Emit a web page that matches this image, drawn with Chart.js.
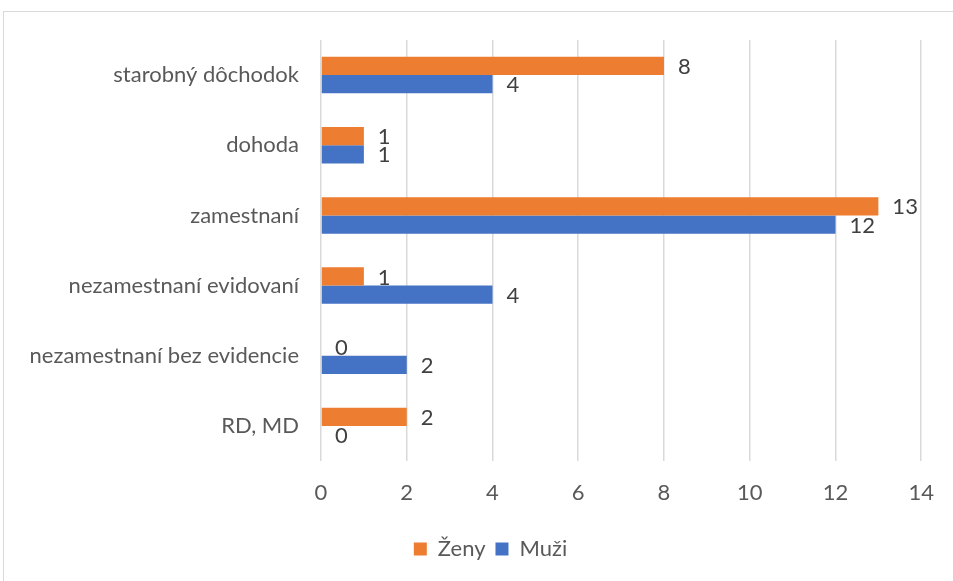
<!DOCTYPE html>
<html>
<head>
<meta charset="utf-8">
<script src="https://cdn.jsdelivr.net/npm/chart.js@4.4.1/dist/chart.umd.min.js"></script>
<style>
  html, body { margin: 0; padding: 0; background: #fff; }
  #wrap { width: 953px; height: 581px; position: relative; }
</style>
</head>
<body>
<div id="wrap"><canvas id="chart" width="953" height="581"></canvas></div>
<script>
const categories = ["starobný dôchodok", "dohoda", "zamestnaní", "nezamestnaní evidovaní", "nezamestnaní bez evidencie", "RD, MD"];
const zenyValues = [8, 1, 13, 1, 0, 2];
const muziValues = [4, 1, 12, 4, 2, 0];
const xTicks = [0, 2, 4, 6, 8, 10, 12, 14];

const FONT = "Lato, 'Liberation Sans', sans-serif";

// frame around the chart (only left and top edges are inside the picture)
const framePlugin = {
    id: "frame",
    beforeDraw(chart) {
        const ctx = chart.ctx;
        ctx.save();
        ctx.fillStyle = "#fff";
        ctx.fillRect(0, 0, chart.width, chart.height);
        ctx.strokeStyle = "#d9d9d9";
        ctx.lineWidth = 1;
        ctx.strokeRect(3.5, 11.5, 1000, 1000);
        ctx.restore();
    },
    // legend sits under the plot area, a bit right of the canvas centre
    afterLayout(chart) {
        chart.legend.left += 28;
        chart.legend.right += 28;
    }
};

// value labels at the end of each bar
const valueLabels = {
    id: "valueLabels",
    afterDatasetsDraw(chart) {
        const ctx = chart.ctx;
        ctx.save();
        ctx.font = "22px " + FONT;
        ctx.fillStyle = "#404040";
        ctx.textAlign = "left";
        ctx.textBaseline = "middle";
        chart.data.datasets.forEach((ds, i) => {
            chart.getDatasetMeta(i).data.forEach((bar, j) => {
                ctx.fillText(String(ds.data[j]), bar.x + 14, bar.y + 1);
            });
        });
        ctx.restore();
    }
};

new Chart(document.getElementById("chart"), {
    type: "bar",
    data: {
        labels: categories,
        datasets: [
            {
                label: "Ženy",
                data: zenyValues,
                backgroundColor: "#ED7D31",
                categoryPercentage: 0.52,
                barPercentage: 1.0
            },
            {
                label: "Muži",
                data: muziValues,
                backgroundColor: "#4472C4",
                categoryPercentage: 0.52,
                barPercentage: 1.0
            }
        ]
    },
    options: {
        indexAxis: "y",
        responsive: false,
        animation: false,
        layout: { padding: { top: 40, right: 28, bottom: 11, left: 0 } },
        scales: {
            x: {
                min: 0,
                max: 14,
                afterBuildTicks(scale) {
                    scale.ticks = xTicks.map(v => ({ value: v }));
                },
                afterFit(scale) { scale.height = 67; },
                grid: { color: "#d9d9d9", lineWidth: 1.5, drawTicks: false },
                border: { display: false },
                ticks: {
                    color: "#595959",
                    font: { family: FONT, size: 22 },
                    padding: 19
                }
            },
            y: {
                afterFit(scale) { scale.width = 321; },
                grid: { display: false },
                border: { display: false },
                ticks: {
                    color: "#595959",
                    font: { family: FONT, size: 22 },
                    padding: 14
                }
            }
        },
        plugins: {
            legend: {
                position: "bottom",
                labels: {
                    color: "#595959",
                    font: { family: FONT, size: 22 },
                    boxWidth: 13,
                    boxHeight: 13,
                    padding: 10
                }
            },
            tooltip: { enabled: false }
        }
    },
    plugins: [framePlugin, valueLabels]
});
</script>
</body>
</html>
